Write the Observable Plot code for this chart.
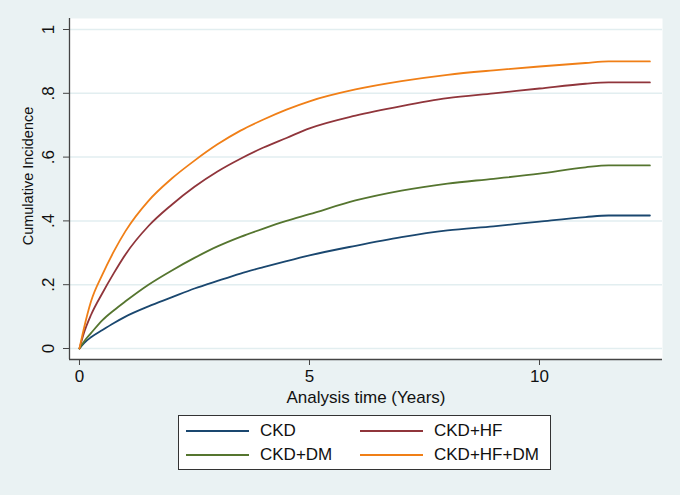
<!DOCTYPE html>
<html>
<head>
<meta charset="utf-8">
<script src="https://cdn.jsdelivr.net/npm/d3@7"></script>
<script src="https://cdn.jsdelivr.net/npm/@observablehq/plot@0.6"></script>
<style>
  html, body { margin: 0; padding: 0; background: #eaf2f3; }
  #wrap { position: relative; width: 680px; height: 495px; font-family: "Liberation Sans", Arial, sans-serif; }
  #legend { position: absolute; left: 178px; top: 415px; width: 371px; height: 53px; background: #fff; border: 1px solid #333; }
  .item { position: absolute; display: flex; align-items: center; font-size: 17px; color: #111; height: 20px; }
  .swatch { width: 63px; height: 2px; margin-right: 11px; }
</style>
</head>
<body>
<div id="wrap"></div>
<script>
const seriesNames = ["CKD", "CKD+HF", "CKD+DM", "CKD+HF+DM"];
const seriesColors = ["#1a476f", "#90353b", "#55752f", "#f07f17"];
const times = [0, 0.1, 0.25, 0.5, 0.75, 1, 1.5, 2, 2.5, 3, 3.5, 4, 4.5, 5, 6, 7, 8, 9, 10, 11, 11.5, 12.4];
const ckd      = [0, 0.017, 0.035, 0.058, 0.080, 0.100, 0.132, 0.160, 0.188, 0.212, 0.235, 0.255, 0.274, 0.292, 0.322, 0.349, 0.370, 0.383, 0.398, 0.412, 0.417, 0.417];
const ckdHf    = [0, 0.050, 0.105, 0.174, 0.237, 0.295, 0.384, 0.450, 0.507, 0.555, 0.595, 0.630, 0.660, 0.690, 0.730, 0.760, 0.785, 0.800, 0.815, 0.830, 0.834, 0.834];
const ckdDm    = [0, 0.022, 0.048, 0.089, 0.120, 0.148, 0.200, 0.244, 0.284, 0.320, 0.350, 0.376, 0.400, 0.421, 0.464, 0.495, 0.517, 0.532, 0.548, 0.568, 0.574, 0.574];
const ckdHfDm  = [0, 0.065, 0.147, 0.232, 0.305, 0.368, 0.463, 0.532, 0.589, 0.640, 0.683, 0.718, 0.749, 0.775, 0.812, 0.838, 0.858, 0.872, 0.884, 0.895, 0.900, 0.900];
const yTicks = [0, 0.2, 0.4, 0.6, 0.8, 1];
const yTickLabels = ["0", ".2", ".4", ".6", ".8", "1"];
const xTicks = [0, 5, 10];
const xTitle = "Analysis time (Years)";
const yTitle = "Cumulative Incidence";

const allSeries = [ckd, ckdHf, ckdDm, ckdHfDm];
const data = [];
allSeries.forEach((vals, i) => vals.forEach((v, j) => data.push({t: times[j], v, s: seriesNames[i]})));

const xDomain = [-0.217, 12.674];
const yDomain = [-0.0345, 1.0345];
const font = "Liberation Sans, Arial, sans-serif";

const chart = Plot.plot({
  width: 680,
  height: 410,
  marginLeft: 69,
  marginRight: 18,
  marginTop: 18,
  marginBottom: 51,
  style: {fontFamily: font, fontSize: "17px", background: "transparent", color: "#111"},
  x: {type: "linear", domain: xDomain},
  y: {type: "linear", domain: yDomain},
  color: {domain: seriesNames, range: seriesColors},
  marks: [
    Plot.frame({fill: "white", stroke: null}),
    Plot.ruleY(yTicks, {stroke: "#e2eef0", strokeWidth: 1.5}),
    Plot.line(data, {x: "t", y: "v", z: "s", stroke: "s", strokeWidth: 1.8, curve: "monotone-x"}),
    Plot.ruleX([xDomain[0]], {stroke: "#444", strokeWidth: 1.3}),
    Plot.ruleY([yDomain[0]], {stroke: "#444", strokeWidth: 1.3}),
    Plot.axisX({ticks: xTicks, tickSize: 6, tickPadding: 4, fontSize: 17, stroke: "#444", label: null}),
    Plot.axisY({ticks: yTicks, tickSize: 6, tickFormat: () => "", label: null, stroke: "#444"}),
    Plot.text(yTicks, {y: d => d, frameAnchor: "left", dx: -21, rotate: -90, textAnchor: "middle", lineAnchor: "middle", text: (d, i) => yTickLabels[i], fontSize: 17, fill: "#111"}),
    Plot.text([xTitle], {frameAnchor: "bottom", dy: 38, textAnchor: "middle", lineAnchor: "middle", text: d => d, fontSize: 17, fill: "#111"}),
    Plot.text([yTitle], {frameAnchor: "left", dx: -41, dy: -13, rotate: -90, textAnchor: "middle", lineAnchor: "middle", text: d => d, fontSize: 14.5, fill: "#111"})
  ]
});

const wrap = document.getElementById("wrap");
wrap.appendChild(chart);

const legend = document.createElement("div");
legend.id = "legend";
const pos = [[7, 15], [181, 15], [7, 39], [181, 39]];
seriesNames.forEach((name, k) => {
  const it = document.createElement("div");
  it.className = "item";
  it.style.left = pos[k][0] + "px";
  it.style.top = (pos[k][1] - 10) + "px";
  const sw = document.createElement("span");
  sw.className = "swatch";
  sw.style.background = seriesColors[k];
  const tx = document.createElement("span");
  tx.textContent = name;
  it.appendChild(sw);
  it.appendChild(tx);
  legend.appendChild(it);
});
wrap.appendChild(legend);
</script>
</body>
</html>
